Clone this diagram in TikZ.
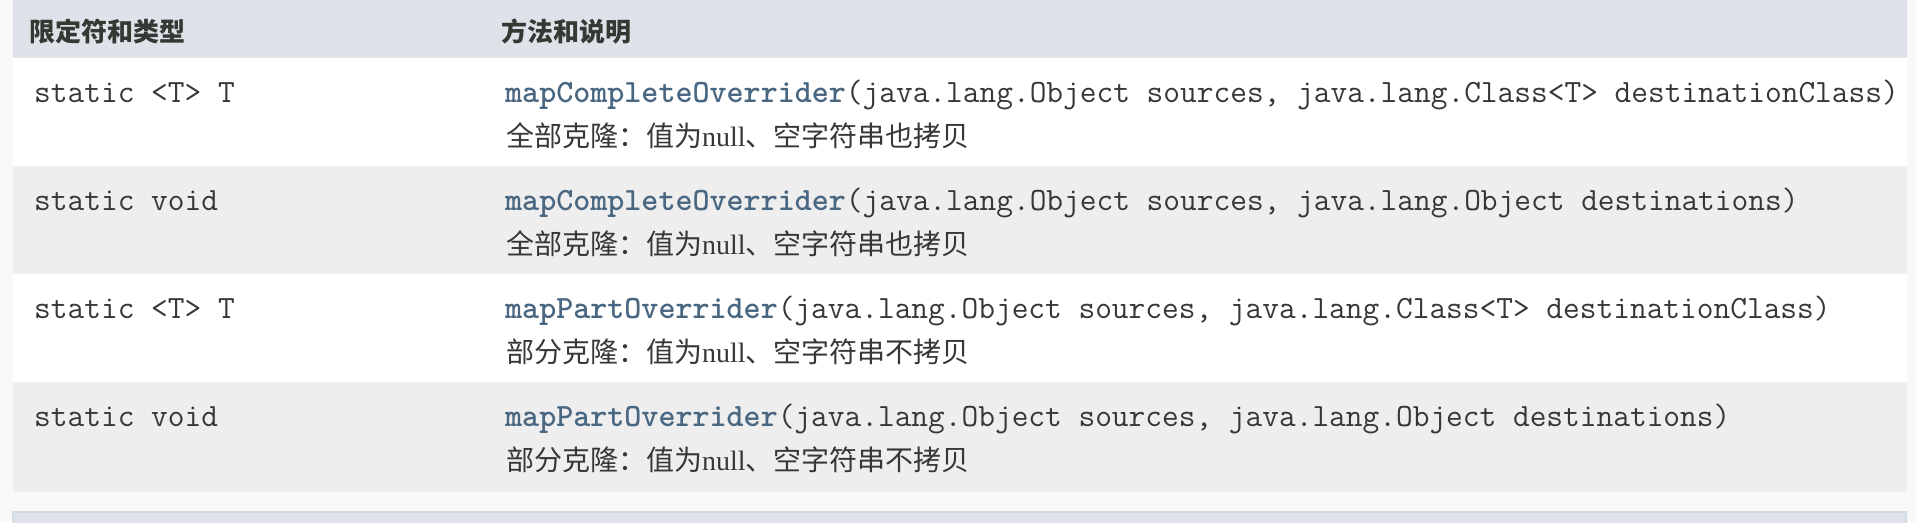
\documentclass[tikz,border=0pt]{standalone}
\usepackage{fontspec}
\newfontfamily\cjk{Noto Sans CJK SC}
\newfontfamily\lserif{Liberation Serif}
\definecolor{pagebg}{HTML}{F8F8F8}
\definecolor{hdrbg}{HTML}{DEE3E9}
\definecolor{altbg}{HTML}{EEEEEF}
\definecolor{bordc}{HTML}{D0D9E0}
\definecolor{txt}{HTML}{353833}
\definecolor{link}{HTML}{4A6782}
\begin{document}
\begin{tikzpicture}[x=1pt,y=-1pt,
  cell/.style={inner sep=0pt, anchor=base west, text=txt},
  mono/.style={cell, font=\fontsize{32.45}{34}\selectfont\ttfamily},
  hdr/.style={cell, font=\fontsize{26}{30}\selectfont\cjk\bfseries},
  desc/.style={cell, font=\fontsize{28}{32}\selectfont\cjk},
  whiterow/.style={fill=white},
  altrow/.style={fill=altbg}]
\useasboundingbox (0,0) rectangle (1916,522);
\fill[pagebg] (0,0) rectangle (1916,522);
% header band
\fill[hdrbg] (13,0) rectangle (1907,58);
\node[hdr] (h1) at (29,41) {限定符和类型};
\node[hdr] (h2) at (501,41) {方法和说明};
% rows
\fill[whiterow] (12.5,58) rectangle (1907,166);
\fill[altrow]   (12.5,166) rectangle (1907,274);
\fill[whiterow] (12.5,274) rectangle (1907,382);
\fill[altrow]   (12.5,382) rectangle (1907,492);
% row 1
\node[mono] (t1) at (34,102) {static <T> T};
\node[mono] (m1) at (505,102) {\textcolor{link}{\bfseries mapCompleteOverrider}(java.lang.Object sources, java.lang.Class<T> destinationClass)};
\node[desc] (d1) at (506,146) {全部克隆：值为{\lserif null}、空字符串也拷贝};
% row 2
\node[mono] (t2) at (34,210) {static void};
\node[mono] (m2) at (505,210) {\textcolor{link}{\bfseries mapCompleteOverrider}(java.lang.Object sources, java.lang.Object destinations)};
\node[desc] (d2) at (506,254) {全部克隆：值为{\lserif null}、空字符串也拷贝};
% row 3
\node[mono] (t3) at (34,318) {static <T> T};
\node[mono] (m3) at (505,318) {\textcolor{link}{\bfseries mapPartOverrider}(java.lang.Object sources, java.lang.Class<T> destinationClass)};
\node[desc] (d3) at (506,362) {部分克隆：值为{\lserif null}、空字符串不拷贝};
% row 4
\node[mono] (t4) at (34,426) {static void};
\node[mono] (m4) at (505,426) {\textcolor{link}{\bfseries mapPartOverrider}(java.lang.Object sources, java.lang.Object destinations)};
\node[desc] (d4) at (506,470) {部分克隆：值为{\lserif null}、空字符串不拷贝};
% bottom band
\filldraw[fill=hdrbg, draw=bordc, line width=1.5pt] (12.5,512) rectangle (1906.5,530);
\end{tikzpicture}
\end{document}
